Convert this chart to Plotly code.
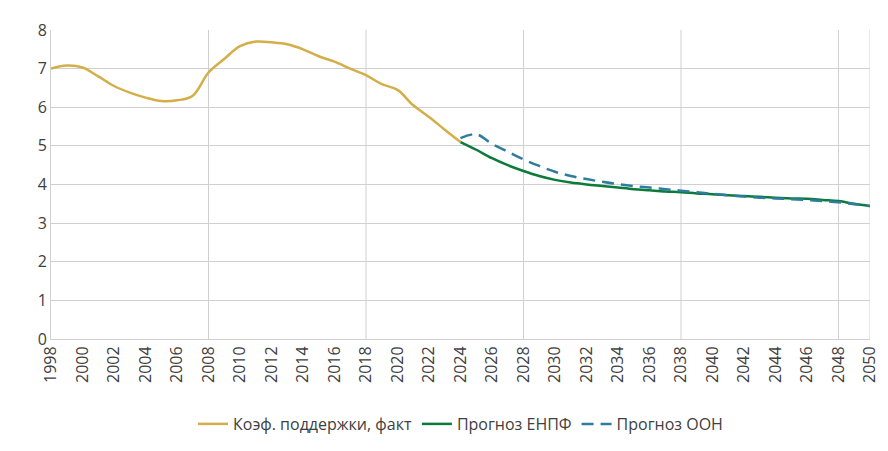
import plotly.graph_objects as go

years_fact = list(range(1998, 2025))
fact = [7.0, 7.08, 7.03, 6.8, 6.55, 6.38, 6.25, 6.16, 6.18, 6.3, 6.9, 7.25, 7.58, 7.7,
        7.68, 7.63, 7.5, 7.32, 7.18, 7.0, 6.83, 6.6, 6.45, 6.05, 5.75, 5.42, 5.1]

years_fc = list(range(2024, 2051))
enpf = [5.1, 4.9, 4.68, 4.5, 4.35, 4.22, 4.12, 4.05, 4.0, 3.96, 3.92, 3.88, 3.85, 3.82,
        3.8, 3.77, 3.75, 3.72, 3.7, 3.68, 3.66, 3.64, 3.63, 3.6, 3.57, 3.5, 3.44]
un = [5.2, 5.3, 5.05, 4.85, 4.65, 4.48, 4.33, 4.22, 4.14, 4.07, 4.01, 3.96, 3.92, 3.88,
      3.84, 3.8, 3.76, 3.72, 3.69, 3.66, 3.64, 3.62, 3.6, 3.57, 3.54, 3.49, 3.44]

fig = go.Figure()
fig.add_trace(go.Scatter(x=years_fact, y=fact, mode="lines", name="Коэф. поддержки, факт",
                         line=dict(color="#d4ae48", width=2.5, shape="spline")))
fig.add_trace(go.Scatter(x=years_fc, y=enpf, mode="lines", name="Прогноз ЕНПФ",
                         line=dict(color="#0b7a3a", width=2.5, shape="spline")))
fig.add_trace(go.Scatter(x=years_fc, y=un, mode="lines", name="Прогноз ООН",
                         line=dict(color="#2f7d9e", width=2.5, dash="12px,7px", shape="spline")))

fig.update_layout(
    width=888, height=451, plot_bgcolor="white", paper_bgcolor="white",
    margin=dict(l=43, r=26, t=22, b=120, autoexpand=False),
    font=dict(family="Open Sans", size=16, color="#404040"),
    legend=dict(orientation="h", x=0.5, xanchor="center", y=-0.22, yanchor="top",
                font=dict(size=16)),
)
fig.update_xaxes(range=[1998, 2050], tickvals=list(range(1998, 2051, 2)), tickangle=-90,
                 showgrid=False, showline=True, linecolor="#d0d0d0", ticks="",
                 automargin=False)
for gx in range(2008, 2051, 10):
    fig.add_vline(x=gx, line=dict(color="#d0d0d0", width=1), layer="below")
fig.add_vline(x=2050, line=dict(color="#d0d0d0", width=1), layer="below")
fig.update_yaxes(range=[0, 8], dtick=1, gridcolor="#d0d0d0", showline=True,
                 linecolor="#d0d0d0", zeroline=False, ticks="", automargin=False)

fig.write_html("out.html")
